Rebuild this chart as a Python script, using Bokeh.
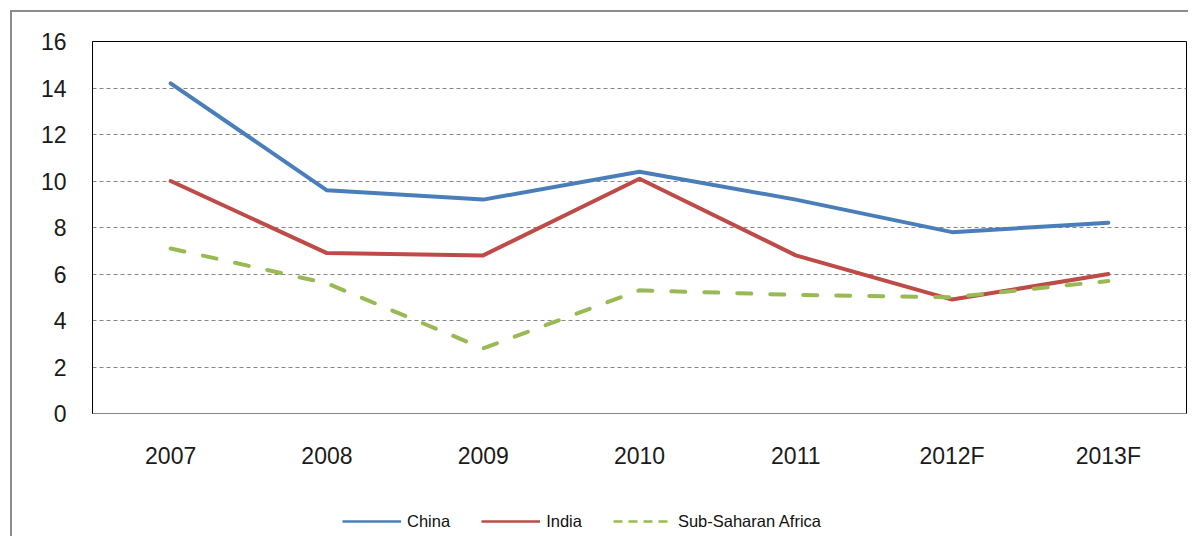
from bokeh.plotting import figure
from bokeh.layouts import column
from bokeh.models import Range1d, FactorRange, FixedTicker, Legend, LegendItem, ColumnDataSource
from bokeh.embed import file_html
from bokeh.resources import INLINE

years = ["2007", "2008", "2009", "2010", "2011", "2012F", "2013F"]
china = [14.2, 9.6, 9.2, 10.4, 9.2, 7.8, 8.2]
india = [10.0, 6.9, 6.8, 10.1, 6.8, 4.9, 6.0]
ssa = [7.1, 5.6, 2.8, 5.3, 5.1, 5.0, 5.7]
series_names = ["China", "India", "Sub-Saharan Africa"]
y_ticks = [0, 2, 4, 6, 8, 10, 12, 14, 16]

BLUE = "#4A7EBB"
RED = "#BE4B48"
GREEN = "#98B954"
FONT = "Liberation Sans"

# main chart
p = figure(width=1176, height=471, x_range=FactorRange(*years, range_padding=0),
           y_range=Range1d(0, 16), output_backend="svg", toolbar_location=None,
           min_border_left=80, min_border_right=2, min_border_top=29, min_border_bottom=70)

src = ColumnDataSource(dict(x=years, china=china, india=india, ssa=ssa))
p.line("x", "china", source=src, line_color=BLUE, line_width=4, line_join="round", line_cap="round")
p.line("x", "india", source=src, line_color=RED, line_width=4, line_join="round", line_cap="round")
p.line("x", "ssa", source=src, line_color=GREEN, line_width=4, line_dash="14 19",
       line_join="round", line_cap="round")

p.outline_line_color = "#000000"
p.outline_line_width = 1

p.xgrid.grid_line_color = None
p.ygrid.grid_line_color = "#868686"
p.ygrid.grid_line_dash = "4 3"
p.ygrid.grid_line_width = 1

p.yaxis.ticker = FixedTicker(ticks=y_ticks)
p.yaxis.axis_line_color = "#000000"
p.yaxis.major_tick_line_color = None
p.yaxis.minor_tick_line_color = None
p.yaxis.major_tick_out = 0
p.yaxis.major_tick_in = 0
p.yaxis.major_label_standoff = 26
p.yaxis.major_label_text_font = FONT
p.yaxis.major_label_text_font_size = "23px"
p.yaxis.major_label_text_color = "#1a1a1a"

p.xaxis.axis_line_color = "#868686"
p.xaxis.major_tick_line_color = None
p.xaxis.major_tick_out = 0
p.xaxis.major_tick_in = 0
p.xaxis.major_label_standoff = 29
p.xaxis.major_label_text_font = FONT
p.xaxis.major_label_text_font_size = "23px"
p.xaxis.major_label_text_color = "#1a1a1a"

# legend strip
q = figure(width=1176, height=53, x_range=Range1d(0, 1), y_range=Range1d(0, 1),
           x_axis_type=None, y_axis_type=None, output_backend="svg", toolbar_location=None,
           min_border=0)
q.outline_line_color = None
q.xgrid.grid_line_color = None
q.ygrid.grid_line_color = None

blank = ColumnDataSource(dict(x=[0.0], y=[float("nan")]))
lc = q.line("x", "y", source=blank, line_color=BLUE, line_width=2.5)
li = q.line("x", "y", source=blank, line_color=RED, line_width=2.5)
ls = q.line("x", "y", source=blank, line_color=GREEN, line_width=2.5, line_dash="9 6")

legend = Legend(items=[LegendItem(label=series_names[0], renderers=[lc]),
                       LegendItem(label=series_names[1], renderers=[li]),
                       LegendItem(label=series_names[2], renderers=[ls])],
                orientation="horizontal", location=(250, 5), padding=0, margin=0,
                glyph_width=59, glyph_height=20, label_height=20, label_standoff=6, spacing=31,
                label_text_font=FONT, label_text_font_size="16.5px", label_text_color="#111111",
                border_line_color=None, background_fill_alpha=0)
q.add_layout(legend, "center")

layout = column(p, q, spacing=0,
                styles={"border-left": "2px solid #8c8c8c", "border-top": "2px solid #8c8c8c",
                        "margin-left": "10px", "margin-top": "10px"})

open("out.html", "w").write(file_html(layout, INLINE))
